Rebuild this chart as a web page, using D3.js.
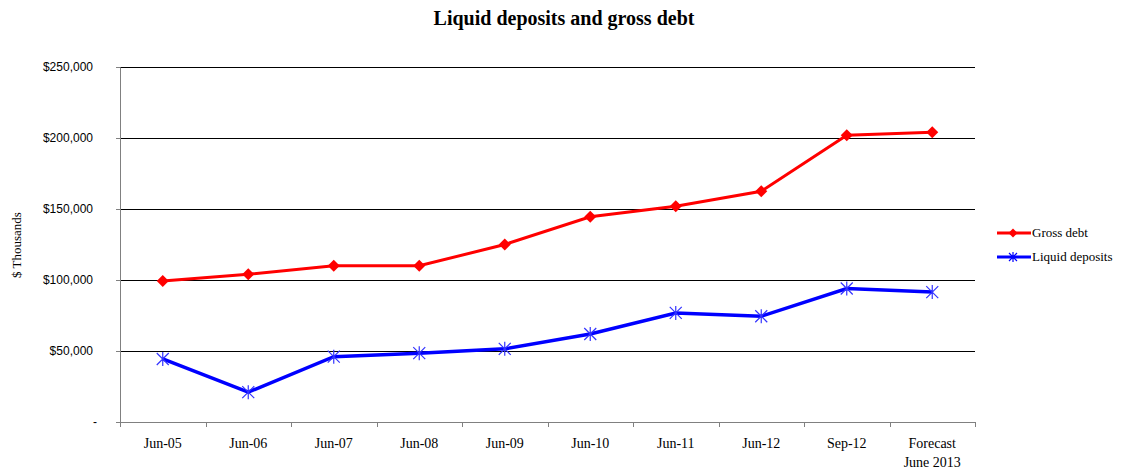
<!DOCTYPE html>
<html>
<head>
<meta charset="utf-8">
<script src="https://cdnjs.cloudflare.com/ajax/libs/d3/7.8.5/d3.min.js"></script>
<style>
  body { margin: 0; background: #fff; }
  svg { font-family: "Liberation Serif", "DejaVu Serif", serif; }
  .axis text { font-size: 12px; fill: #000; }
</style>
</head>
<body>
<div id="chart"></div>
<script>
// data ($ thousands)
var categories = ['Jun-05', 'Jun-06', 'Jun-07', 'Jun-08', 'Jun-09', 'Jun-10', 'Jun-11', 'Jun-12', 'Sep-12', 'Forecast\nJune 2013'];
var grossDebt = [99300, 104000, 110000, 110000, 125000, 144500, 152000, 162500, 202000, 204000];
var liquidDeposits = [44400, 21000, 46000, 48500, 51500, 62000, 76800, 74500, 94000, 91500];
var yTicks = [0, 50000, 100000, 150000, 200000, 250000];

var W = 1122, H = 470;
var margin = { top: 67, right: 147, bottom: 48, left: 120 },
    width = W - margin.left - margin.right,
    height = H - margin.top - margin.bottom;

var svg = d3.select('#chart').append('svg')
    .attr('width', W)
    .attr('height', H);

svg.append('text')
    .attr('x', 564).attr('y', 25)
    .attr('text-anchor', 'middle')
    .style('font-size', '20px')
    .style('font-weight', 'bold')
    .text('Liquid deposits and gross debt');

var g = svg.append('g')
    .attr('transform', 'translate(' + margin.left + ',' + margin.top + ')');

var x = d3.scaleBand().domain(categories).range([0, width]);
var y = d3.scaleLinear().domain([0, 250000]).range([height, 0]);

// gridlines
g.selectAll('.grid').data(yTicks.slice(1)).enter().append('line')
    .attr('x1', 0).attr('x2', width)
    .attr('y1', function (d) { return Math.round(y(d)) + 0.5; })
    .attr('y2', function (d) { return Math.round(y(d)) + 0.5; })
    .attr('stroke', '#000').attr('stroke-width', 1);

var fmt = function (d) { return d === 0 ? '-' : '$' + d3.format(',')(d); };

var yAxis = g.append('g').attr('class', 'axis')
    .call(d3.axisLeft(y).tickValues(yTicks).tickFormat(fmt).tickSize(4).tickPadding(23));
yAxis.select('.domain').attr('stroke', '#808080');
yAxis.selectAll('.tick line').attr('stroke', '#808080');
yAxis.selectAll('.tick text').filter(function (d) { return d === 0; }).attr('dx', '4');

var xAxis = g.append('g').attr('class', 'axis')
    .attr('transform', 'translate(0,' + height + ')')
    .call(d3.axisBottom(x).tickSize(0).tickFormat(''));
xAxis.select('.domain').attr('stroke', '#808080');

// tick marks at band boundaries
g.selectAll('.xtick').data(d3.range(categories.length + 1)).enter().append('line')
    .attr('x1', function (i) { return Math.round(i * x.step()) + 0.5; })
    .attr('x2', function (i) { return Math.round(i * x.step()) + 0.5; })
    .attr('y1', height).attr('y2', height + 5)
    .attr('stroke', '#808080');

// x labels, allowing two lines
g.selectAll('.xlabel').data(categories).enter().append('text')
    .attr('text-anchor', 'middle')
    .style('font-size', '14px')
    .attr('transform', function (d) { return 'translate(' + (x(d) + x.bandwidth() / 2) + ',' + (height + 26) + ')'; })
    .each(function (d) {
        var t = d3.select(this);
        d.split('\n').forEach(function (s, i) {
            t.append('tspan').attr('x', 0).attr('dy', i === 0 ? 0 : 19).text(s);
        });
    });

svg.append('text')
    .attr('transform', 'translate(21,245) rotate(-90)')
    .attr('text-anchor', 'middle')
    .style('font-size', '13px')
    .text('$ Thousands');

var cx = function (d, i) { return x(categories[i]) + x.bandwidth() / 2; };
var line = d3.line().x(cx).y(function (d) { return y(d); });

g.append('path').datum(grossDebt)
    .attr('d', line).attr('fill', 'none')
    .attr('stroke', '#ff0000').attr('stroke-width', 3);
g.append('path').datum(liquidDeposits)
    .attr('d', line).attr('fill', 'none')
    .attr('stroke', '#0000ff').attr('stroke-width', 3.5);

var diamond = 'M0,-6L6,0L0,6L-6,0Z';
var star = 'M-6,-6L6,6M-6,6L6,-6M0,-7L0,7';

g.selectAll('.gd').data(grossDebt).enter().append('path')
    .attr('d', diamond)
    .attr('transform', function (d, i) { return 'translate(' + cx(d, i) + ',' + y(d) + ')'; })
    .attr('fill', '#ff0000');
g.selectAll('.ld').data(liquidDeposits).enter().append('path')
    .attr('d', star)
    .attr('transform', function (d, i) { return 'translate(' + cx(d, i) + ',' + y(d) + ')'; })
    .attr('stroke', '#3333ff').attr('stroke-width', 1.2).attr('fill', 'none');

// legend
var legend = svg.append('g').attr('transform', 'translate(997,233)');
var items = [
    { name: 'Gross debt', color: '#ff0000', sym: 'M0,-4.5L4.5,0L0,4.5L-4.5,0Z', fill: true },
    { name: 'Liquid deposits', color: '#0000ff', sym: 'M-4,-4L4,4M-4,4L4,-4M0,-5L0,5', fill: false }
];
items.forEach(function (it, i) {
    var row = legend.append('g').attr('transform', 'translate(0,' + (i * 24) + ')');
    row.append('line').attr('x1', 0).attr('x2', 34).attr('y1', 0).attr('y2', 0)
        .attr('stroke', it.color).attr('stroke-width', 3);
    row.append('path').attr('d', it.sym).attr('transform', 'translate(16,0)')
        .attr('fill', it.fill ? it.color : 'none')
        .attr('stroke', it.fill ? 'none' : it.color).attr('stroke-width', 1.2);
    row.append('text').attr('x', 35).attr('y', 4)
        .style('font-size', '13px').text(it.name);
});
</script>
</body>
</html>
